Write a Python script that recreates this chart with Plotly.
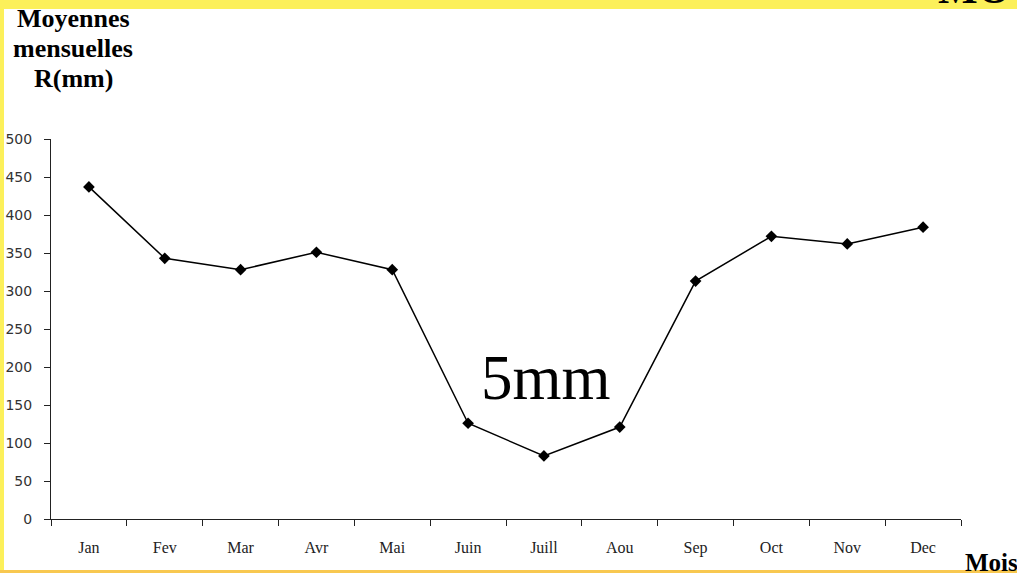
import plotly.graph_objects as go

months = ["Jan", "Fev", "Mar", "Avr", "Mai", "Juin", "Juill", "Aou", "Sep", "Oct", "Nov", "Dec"]
rain_mm = [437, 343, 328, 351, 328, 126, 83, 121, 313, 372, 362, 384]
y_ticks = [0, 50, 100, 150, 200, 250, 300, 350, 400, 450, 500]
title_lines = ["Moyennes", "mensuelles", "R(mm)"]

W, H = 1017, 573
ML, MR, MT, MB = 51, 56, 139, 54
PW, PH = W - ML - MR, H - MT - MB

def px(x):
    return (x - ML) / PW

def py(y):
    return 1 - (y - MT) / PH

fig = go.Figure()
fig.add_trace(go.Scatter(
    x=months, y=rain_mm, mode="lines+markers",
    line=dict(color="black", width=1.5),
    marker=dict(symbol="diamond", size=9, color="black"),
    showlegend=False, cliponaxis=False,
))

fig.update_xaxes(
    type="category", range=[-0.5, 11.5], showline=True, linecolor="#222", linewidth=1,
    ticks="outside", tickson="boundaries", ticklen=6, tickcolor="#222",
    tickfont=dict(family="Liberation Serif", size=16, color="#222"),
    ticklabelstandoff=14, automargin=False,
    showgrid=False, zeroline=False,
)
fig.update_yaxes(
    range=[0, 500], tickvals=y_ticks, showline=True, linecolor="#222", linewidth=1,
    ticks="outside", ticklen=6, tickcolor="#222",
    tickfont=dict(family="DejaVu Sans", size=14, color="#333"),
    ticklabelstandoff=9, automargin=False,
    showgrid=False, zeroline=False,
)

shapes = [
    dict(type="rect", xref="paper", yref="paper", x0=px(0), x1=px(W), y0=py(0), y1=py(9),
         fillcolor="#FCF05A", line=dict(width=0), layer="above"),
    dict(type="rect", xref="paper", yref="paper", x0=px(0), x1=px(4), y0=py(0), y1=py(H),
         fillcolor="#FCF05A", line=dict(width=0), layer="above"),
    dict(type="rect", xref="paper", yref="paper", x0=px(0), x1=px(W), y0=py(570), y1=py(H),
         fillcolor="#F8C850", line=dict(width=0), layer="above"),
]

annotations = []
for i, line in enumerate(title_lines):
    annotations.append(dict(
        text="<b>" + line + "</b>", xref="paper", yref="paper",
        x=px(73), y=py(19 + 30 * i), xanchor="center", yanchor="middle", showarrow=False,
        font=dict(family="Liberation Serif", size=26, color="black")))

annotations += [
    dict(text="5mm", xref="paper", yref="paper", x=px(546), y=py(378),
         xanchor="center", yanchor="middle", showarrow=False,
         font=dict(family="Liberation Serif", size=63, color="black")),
    dict(text="<b>Mois</b>", xref="paper", yref="paper", x=px(1020), y=py(547),
         xanchor="right", yanchor="top", showarrow=False,
         font=dict(family="Liberation Serif", size=25, color="black")),
    dict(text="<b>MO</b>", xref="paper", yref="paper", x=px(1012), y=py(14),
         xanchor="right", yanchor="bottom", showarrow=False,
         font=dict(family="Liberation Serif", size=42, color="black")),
]

fig.update_layout(
    width=W, height=H, margin=dict(l=ML, r=MR, t=MT, b=MB),
    paper_bgcolor="white", plot_bgcolor="white",
    shapes=shapes, annotations=annotations,
)

fig.write_html("out.html")
